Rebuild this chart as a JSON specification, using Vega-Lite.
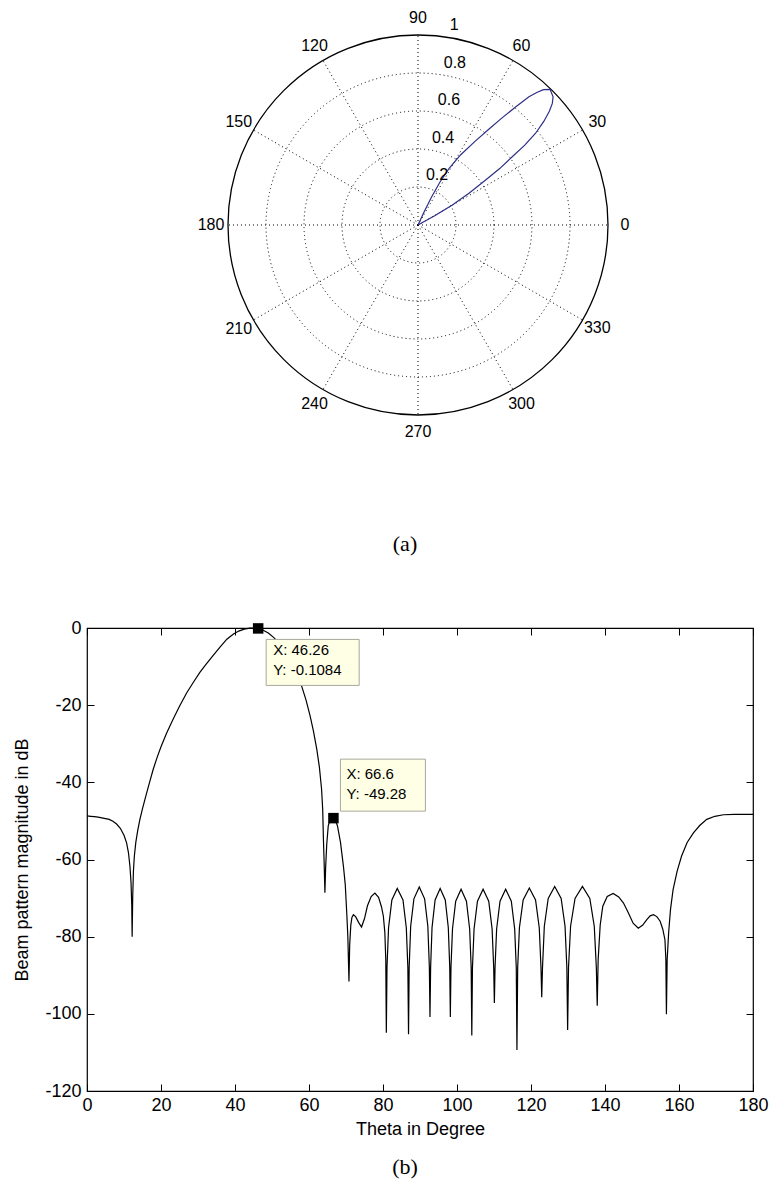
{
  "$schema": "https://vega.github.io/schema/vega-lite/v6.json",
  "padding": {"left": 13, "top": 10, "right": 0, "bottom": 4},
  "spacing": 63,
  "config": {
    "font": "Liberation Sans",
    "view": {"stroke": null},
    "axis": {"labelFont": "Liberation Sans", "titleFont": "Liberation Sans", "labelColor": "#000", "titleColor": "#000", "tickColor": "#000", "domainColor": "#000", "titleFontWeight": "normal", "labelFlush": false, "labelOverlap": false, "grid": false},
    "title": {"font": "Liberation Serif", "fontWeight": "normal", "color": "#000"}
  },
  "datasets": {
    "spokes": [
      {"angle": 0, "label": "0", "ux": 0, "uy": 0, "vx": 1, "vy": 0},
      {"angle": 30, "label": "30", "ux": 0, "uy": 0, "vx": 0.866, "vy": 0.5},
      {"angle": 60, "label": "60", "ux": 0, "uy": 0, "vx": 0.5, "vy": 0.866},
      {"angle": 90, "label": "90", "ux": 0, "uy": 0, "vx": 0, "vy": 1},
      {"angle": 120, "label": "120", "ux": 0, "uy": 0, "vx": -0.5, "vy": 0.866},
      {"angle": 150, "label": "150", "ux": 0, "uy": 0, "vx": -0.866, "vy": 0.5},
      {"angle": 180, "label": "180", "ux": 0, "uy": 0, "vx": -1, "vy": 0},
      {"angle": 210, "label": "210", "ux": 0, "uy": 0, "vx": -0.866, "vy": -0.5},
      {"angle": 240, "label": "240", "ux": 0, "uy": 0, "vx": -0.5, "vy": -0.866},
      {"angle": 270, "label": "270", "ux": 0, "uy": 0, "vx": 0, "vy": -1},
      {"angle": 300, "label": "300", "ux": 0, "uy": 0, "vx": 0.5, "vy": -0.866},
      {"angle": 330, "label": "330", "ux": 0, "uy": 0, "vx": 0.866, "vy": -0.5}
    ],
    "rings": [
      {"r": 0.2, "label": "0.2"},
      {"r": 0.4, "label": "0.4"},
      {"r": 0.6, "label": "0.6"},
      {"r": 0.8, "label": "0.8"},
      {"r": 1, "label": "1"}
    ],
    "lobe": [
      {"i": 0, "x": 0, "y": 0},
      {"i": 1, "x": 0.09, "y": 0.05},
      {"i": 2, "x": 0.181, "y": 0.105},
      {"i": 3, "x": 0.27, "y": 0.168},
      {"i": 4, "x": 0.356, "y": 0.237},
      {"i": 5, "x": 0.43, "y": 0.297},
      {"i": 6, "x": 0.496, "y": 0.359},
      {"i": 7, "x": 0.562, "y": 0.42},
      {"i": 8, "x": 0.619, "y": 0.483},
      {"i": 9, "x": 0.662, "y": 0.545},
      {"i": 10, "x": 0.692, "y": 0.6},
      {"i": 11, "x": 0.707, "y": 0.64},
      {"i": 12, "x": 0.711, "y": 0.675},
      {"i": 13, "x": 0.695, "y": 0.714},
      {"i": 14, "x": 0.66, "y": 0.712},
      {"i": 15, "x": 0.625, "y": 0.697},
      {"i": 16, "x": 0.584, "y": 0.675},
      {"i": 17, "x": 0.515, "y": 0.622},
      {"i": 18, "x": 0.444, "y": 0.565},
      {"i": 19, "x": 0.374, "y": 0.505},
      {"i": 20, "x": 0.3, "y": 0.44},
      {"i": 21, "x": 0.225, "y": 0.37},
      {"i": 22, "x": 0.165, "y": 0.3},
      {"i": 23, "x": 0.115, "y": 0.225},
      {"i": 24, "x": 0.07, "y": 0.145},
      {"i": 25, "x": 0.03, "y": 0.065},
      {"i": 26, "x": 0, "y": 0}
    ],
    "tips": [
      {"tip": 1, "theta": 46.26, "db": -0.1084, "text": "X: 46.26\nY: -0.1084"},
      {"tip": 2, "theta": 66.6, "db": -49.28, "text": "X: 66.6\nY: -49.28"}
    ],
    "bp": [
      {"t": 0, "db": -48.7}, {"t": 1, "db": -48.8}, {"t": 2, "db": -48.9}, {"t": 3, "db": -49.0}, {"t": 4, "db": -49.2},
      {"t": 5, "db": -49.4}, {"t": 6, "db": -49.6}, {"t": 7, "db": -50.1}, {"t": 8, "db": -50.8}, {"t": 9, "db": -51.9},
      {"t": 10, "db": -53.7}, {"t": 10.7, "db": -55.7}, {"t": 11.2, "db": -58.2}, {"t": 11.6, "db": -61.7}, {"t": 11.9, "db": -66},
      {"t": 12.1, "db": -72}, {"t": 12.2, "db": -80}, {"t": 12.35, "db": -70}, {"t": 12.55, "db": -63}, {"t": 12.8, "db": -59.1},
      {"t": 13.2, "db": -55.5}, {"t": 13.7, "db": -52.5}, {"t": 14.3, "db": -49.6}, {"t": 15, "db": -46.8}, {"t": 16, "db": -43.2},
      {"t": 17, "db": -39.7}, {"t": 17.9, "db": -36.6}, {"t": 19, "db": -33.4}, {"t": 20, "db": -30.8}, {"t": 21.5, "db": -27.3},
      {"t": 23.3, "db": -23.6}, {"t": 25, "db": -20.3}, {"t": 27, "db": -16.7}, {"t": 28.8, "db": -14}, {"t": 30.5, "db": -11.5},
      {"t": 32, "db": -9.6}, {"t": 34, "db": -7.2}, {"t": 36, "db": -4.9}, {"t": 37.8, "db": -2.9}, {"t": 39.5, "db": -1.6},
      {"t": 41, "db": -0.8}, {"t": 42.5, "db": -0.3}, {"t": 44, "db": -0.05}, {"t": 45, "db": 0}, {"t": 46.26, "db": -0.1084},
      {"t": 47.5, "db": -0.5}, {"t": 49, "db": -1.3}, {"t": 50.5, "db": -2.5}, {"t": 52, "db": -4.0}, {"t": 53.5, "db": -5.9},
      {"t": 55, "db": -8.3}, {"t": 56.5, "db": -11.2}, {"t": 58, "db": -15.0}, {"t": 59.2, "db": -18.7}, {"t": 60.3, "db": -22.8},
      {"t": 61.2, "db": -26.7}, {"t": 62.1, "db": -31.4}, {"t": 62.8, "db": -36}, {"t": 63.4, "db": -41.8}, {"t": 63.7, "db": -47},
      {"t": 63.9, "db": -54.8}, {"t": 64.1, "db": -61}, {"t": 64.3, "db": -68.6}, {"t": 64.5, "db": -62}, {"t": 64.8, "db": -56},
      {"t": 65.2, "db": -51.3}, {"t": 65.7, "db": -49.8}, {"t": 66.2, "db": -49.3}, {"t": 66.6, "db": -49.28}, {"t": 67.1, "db": -49.8},
      {"t": 67.7, "db": -51.3}, {"t": 68.5, "db": -55.5}, {"t": 69.3, "db": -61.7}, {"t": 69.8, "db": -66.5}, {"t": 70.2, "db": -73.8},
      {"t": 70.5, "db": -80}, {"t": 70.8, "db": -91.6}, {"t": 71.0, "db": -82}, {"t": 71.3, "db": -77}, {"t": 71.6, "db": -75},
      {"t": 72.0, "db": -74.3}, {"t": 72.6, "db": -74.8}, {"t": 73.4, "db": -76.3}, {"t": 74.2, "db": -77.5}, {"t": 75.0, "db": -75.3},
      {"t": 75.8, "db": -72}, {"t": 76.8, "db": -69.6}, {"t": 77.8, "db": -68.7}, {"t": 78.8, "db": -69.8}, {"t": 79.6, "db": -72.3},
      {"t": 80.1, "db": -74.7}, {"t": 80.5, "db": -79}, {"t": 80.75, "db": -86}, {"t": 80.9, "db": -104.9}, {"t": 81.08, "db": -88},
      {"t": 81.5, "db": -77.7}, {"t": 82.4, "db": -70.5}, {"t": 83.85, "db": -67.5}, {"t": 85.4, "db": -70.5}, {"t": 86.3, "db": -77.7},
      {"t": 86.72, "db": -88}, {"t": 86.9, "db": -105.3}, {"t": 87.07, "db": -88}, {"t": 87.48, "db": -77.3}, {"t": 88.35, "db": -70.2},
      {"t": 89.8, "db": -67.1}, {"t": 91.25, "db": -70.2}, {"t": 92.12, "db": -77.3}, {"t": 92.53, "db": -88}, {"t": 92.7, "db": -100.8},
      {"t": 92.87, "db": -88}, {"t": 93.25, "db": -77.7}, {"t": 94.08, "db": -70.5}, {"t": 95.45, "db": -67.5}, {"t": 96.83, "db": -70.5},
      {"t": 97.65, "db": -77.7}, {"t": 98.04, "db": -88}, {"t": 98.2, "db": -100.8}, {"t": 98.37, "db": -88}, {"t": 98.78, "db": -78},
      {"t": 99.65, "db": -70.8}, {"t": 101.1, "db": -67.7}, {"t": 102.55, "db": -70.8}, {"t": 103.42, "db": -78}, {"t": 103.83, "db": -88},
      {"t": 104.0, "db": -105.6}, {"t": 104.18, "db": -88}, {"t": 104.61, "db": -78}, {"t": 105.53, "db": -70.8}, {"t": 107.05, "db": -67.7},
      {"t": 108.58, "db": -70.8}, {"t": 109.49, "db": -78}, {"t": 109.92, "db": -88}, {"t": 110.1, "db": -97.2}, {"t": 110.28, "db": -88},
      {"t": 110.71, "db": -78}, {"t": 111.63, "db": -70.8}, {"t": 113.15, "db": -67.7}, {"t": 114.68, "db": -70.8}, {"t": 115.59, "db": -78},
      {"t": 116.02, "db": -88}, {"t": 116.2, "db": -109.4}, {"t": 116.4, "db": -88}, {"t": 116.87, "db": -77.7}, {"t": 117.88, "db": -70.5},
      {"t": 119.55, "db": -67.4}, {"t": 121.23, "db": -70.5}, {"t": 122.23, "db": -77.7}, {"t": 122.7, "db": -88}, {"t": 122.9, "db": -95.7},
      {"t": 123.11, "db": -88}, {"t": 123.6, "db": -77.3}, {"t": 124.65, "db": -70.1}, {"t": 126.4, "db": -67.0}, {"t": 128.15, "db": -70.1},
      {"t": 129.2, "db": -77.3}, {"t": 129.69, "db": -88}, {"t": 129.9, "db": -104.2}, {"t": 130.14, "db": -88}, {"t": 130.7, "db": -77.3},
      {"t": 131.9, "db": -70.1}, {"t": 133.9, "db": -67.0}, {"t": 135.9, "db": -70.1}, {"t": 137.1, "db": -77.3}, {"t": 137.66, "db": -88},
      {"t": 137.9, "db": -97.9}, {"t": 138.15, "db": -86}, {"t": 138.7, "db": -77}, {"t": 139.4, "db": -72.1}, {"t": 140.6, "db": -69.6},
      {"t": 142.2, "db": -68.8}, {"t": 143.7, "db": -69.7}, {"t": 145.0, "db": -71.3}, {"t": 146.3, "db": -73.8}, {"t": 147.6, "db": -76.5},
      {"t": 149.0, "db": -77.8}, {"t": 150.2, "db": -77}, {"t": 151.3, "db": -75.6}, {"t": 152.2, "db": -74.6}, {"t": 153.1, "db": -74.3},
      {"t": 154.0, "db": -74.8}, {"t": 154.9, "db": -76.0}, {"t": 155.6, "db": -78}, {"t": 156.2, "db": -80.8}, {"t": 156.45, "db": -86},
      {"t": 156.6, "db": -100.1}, {"t": 156.8, "db": -86}, {"t": 157.2, "db": -79.0}, {"t": 157.7, "db": -73}, {"t": 158.4, "db": -67.8},
      {"t": 159.5, "db": -63}, {"t": 160.7, "db": -59.1}, {"t": 162.2, "db": -55.6}, {"t": 163.9, "db": -53.1}, {"t": 165.6, "db": -51.2},
      {"t": 167.5, "db": -49.6}, {"t": 169.7, "db": -48.8}, {"t": 172.0, "db": -48.4}, {"t": 175, "db": -48.3}, {"t": 178, "db": -48.3},
      {"t": 180, "db": -48.3}
    ]
  },
  "vconcat": [
    {
      "width": 662,
      "height": 400,
      "view": {"stroke": null},
      "title": {"text": "(a)", "orient": "bottom", "fontSize": 22, "offset": 94, "frame": "group", "dx": -13},
      "layer": [
        {
          "data": {"name": "spokes"},
          "mark": {"type": "rule", "color": "#000", "strokeDash": [1, 3], "strokeWidth": 1},
          "encoding": {
            "x": {"field": "ux", "type": "quantitative", "scale": {"domain": [-1.7421, 1.7421], "nice": false, "zero": false}, "axis": null},
            "y": {"field": "uy", "type": "quantitative", "scale": {"domain": [-1.0526, 1.0526], "nice": false, "zero": false}, "axis": null},
            "x2": {"field": "vx"},
            "y2": {"field": "vy"}
          }
        },
        {
          "data": {"name": "rings"},
          "transform": [{"filter": "datum.r < 1"}],
          "mark": {"type": "arc", "filled": false, "color": "#000", "strokeDash": [1, 3], "strokeWidth": 1},
          "encoding": {
            "theta": {"datum": 0, "type": "quantitative", "stack": null, "scale": {"domain": [0, 360], "range": [1.5708, -4.7124]}},
            "theta2": {"datum": 360},
            "radius": {"field": "r", "type": "quantitative", "stack": null, "scale": {"type": "linear", "domain": [0, 1], "range": [0, 190], "zero": true, "nice": false}}
          }
        },
        {
          "data": {"name": "rings"},
          "transform": [{"filter": "datum.r == 1"}],
          "mark": {"type": "arc", "filled": false, "color": "#000", "strokeWidth": 1.3},
          "encoding": {
            "theta": {"datum": 0, "type": "quantitative", "stack": null, "scale": {"domain": [0, 360], "range": [1.5708, -4.7124]}},
            "theta2": {"datum": 360},
            "radius": {"field": "r", "type": "quantitative", "stack": null, "scale": {"type": "linear", "domain": [0, 1], "range": [0, 190], "zero": true, "nice": false}}
          }
        },
        {
          "data": {"name": "lobe"},
          "mark": {"type": "line", "color": "#2e2e86", "strokeWidth": 1.2},
          "encoding": {
            "x": {"field": "x", "type": "quantitative", "scale": {"domain": [-1.7421, 1.7421], "nice": false, "zero": false}, "axis": null},
            "y": {"field": "y", "type": "quantitative", "scale": {"domain": [-1.0526, 1.0526], "nice": false, "zero": false}, "axis": null},
            "order": {"field": "i", "type": "quantitative"}
          }
        },
        {
          "data": {"name": "spokes"},
          "mark": {"type": "text", "fontSize": 16, "radiusOffset": 17, "align": "center", "baseline": "middle", "color": "#000"},
          "encoding": {
            "theta": {"field": "angle", "type": "quantitative", "stack": null, "scale": {"domain": [0, 360], "range": [1.5708, -4.7124]}},
            "radius": {"datum": 1, "type": "quantitative", "scale": {"type": "linear", "domain": [0, 1], "range": [0, 190], "zero": true, "nice": false}},
            "text": {"field": "label"}
          }
        },
        {
          "data": {"name": "rings"},
          "mark": {"type": "text", "fontSize": 16, "align": "left", "baseline": "middle", "dx": 2, "dy": -12, "color": "#000"},
          "encoding": {
            "theta": {"datum": 81, "type": "quantitative", "stack": null, "scale": {"domain": [0, 360], "range": [1.5708, -4.7124]}},
            "radius": {"field": "r", "type": "quantitative", "stack": null, "scale": {"type": "linear", "domain": [0, 1], "range": [0, 190], "zero": true, "nice": false}},
            "text": {"field": "label"}
          }
        }
      ]
    },
    {
      "width": 666,
      "height": 463,
      "view": {"stroke": "#000", "strokeWidth": 1.2},
      "title": {"text": "(b)", "orient": "bottom", "fontSize": 22, "offset": 19, "frame": "group", "dx": -15},
      "resolve": {"axis": {"x": "independent", "y": "independent"}},
      "layer": [
        {
          "data": {"name": "bp"},
          "mark": {"type": "line", "color": "#000", "strokeWidth": 1.2},
          "encoding": {
            "x": {"field": "t", "type": "quantitative", "scale": {"domain": [0, 180], "nice": false},
                  "axis": {"orient": "bottom", "values": [0, 20, 40, 60, 80, 100, 120, 140, 160, 180], "tickSize": -7, "labelPadding": 12, "labelFontSize": 18, "titleFontSize": 18, "title": "Theta in Degree", "titlePadding": 6, "domain": false}},
            "y": {"field": "db", "type": "quantitative", "scale": {"domain": [-120, 0], "nice": false},
                  "axis": {"orient": "left", "values": [-120, -100, -80, -60, -40, -20, 0], "labelExpr": "toString(datum.value)", "tickSize": -7, "labelPadding": 13, "labelFontSize": 18, "titleFontSize": 18, "title": "Beam pattern magnitude in dB", "titlePadding": 13, "domain": false}}
          }
        },
        {
          "data": {"name": "tips"},
          "mark": {"type": "point", "shape": "square", "filled": true, "color": "#000", "size": 110, "opacity": 1},
          "encoding": {
            "x": {"field": "theta", "type": "quantitative", "axis": {"orient": "top", "values": [0, 20, 40, 60, 80, 100, 120, 140, 160, 180], "tickSize": -7, "labels": false, "title": null, "domain": false}},
            "y": {"field": "db", "type": "quantitative", "axis": {"orient": "right", "values": [-120, -100, -80, -60, -40, -20, 0], "tickSize": -7, "labels": false, "title": null, "domain": false}}
          }
        },
        {
          "data": {"name": "tips"},
          "transform": [{"filter": "datum.tip == 1"}],
          "mark": {"type": "rect", "fill": "#ffffe6", "stroke": "#a8a89c", "strokeWidth": 1, "xOffset": 8, "x2Offset": 101, "yOffset": 11, "y2Offset": 57},
          "encoding": {
            "x": {"field": "theta", "type": "quantitative", "axis": null},
            "x2": {"field": "theta"},
            "y": {"field": "db", "type": "quantitative", "axis": null},
            "y2": {"field": "db"}
          }
        },
        {
          "data": {"name": "tips"},
          "transform": [{"filter": "datum.tip == 1"}],
          "mark": {"type": "text", "align": "left", "baseline": "top", "lineBreak": "\n", "fontSize": 15, "lineHeight": 19.5, "dx": 15, "dy": 15, "color": "#000"},
          "encoding": {
            "x": {"field": "theta", "type": "quantitative", "axis": null},
            "y": {"field": "db", "type": "quantitative", "axis": null},
            "text": {"field": "text"}
          }
        },
        {
          "data": {"name": "tips"},
          "transform": [{"filter": "datum.tip == 2"}],
          "mark": {"type": "rect", "fill": "#ffffe6", "stroke": "#a8a89c", "strokeWidth": 1, "xOffset": 7, "x2Offset": 92, "yOffset": -59, "y2Offset": -7},
          "encoding": {
            "x": {"field": "theta", "type": "quantitative", "axis": null},
            "x2": {"field": "theta"},
            "y": {"field": "db", "type": "quantitative", "axis": null},
            "y2": {"field": "db"}
          }
        },
        {
          "data": {"name": "tips"},
          "transform": [{"filter": "datum.tip == 2"}],
          "mark": {"type": "text", "align": "left", "baseline": "top", "lineBreak": "\n", "fontSize": 15, "lineHeight": 19.5, "dx": 13, "dy": -51, "color": "#000"},
          "encoding": {
            "x": {"field": "theta", "type": "quantitative", "axis": null},
            "y": {"field": "db", "type": "quantitative", "axis": null},
            "text": {"field": "text"}
          }
        }
      ]
    }
  ]
}
